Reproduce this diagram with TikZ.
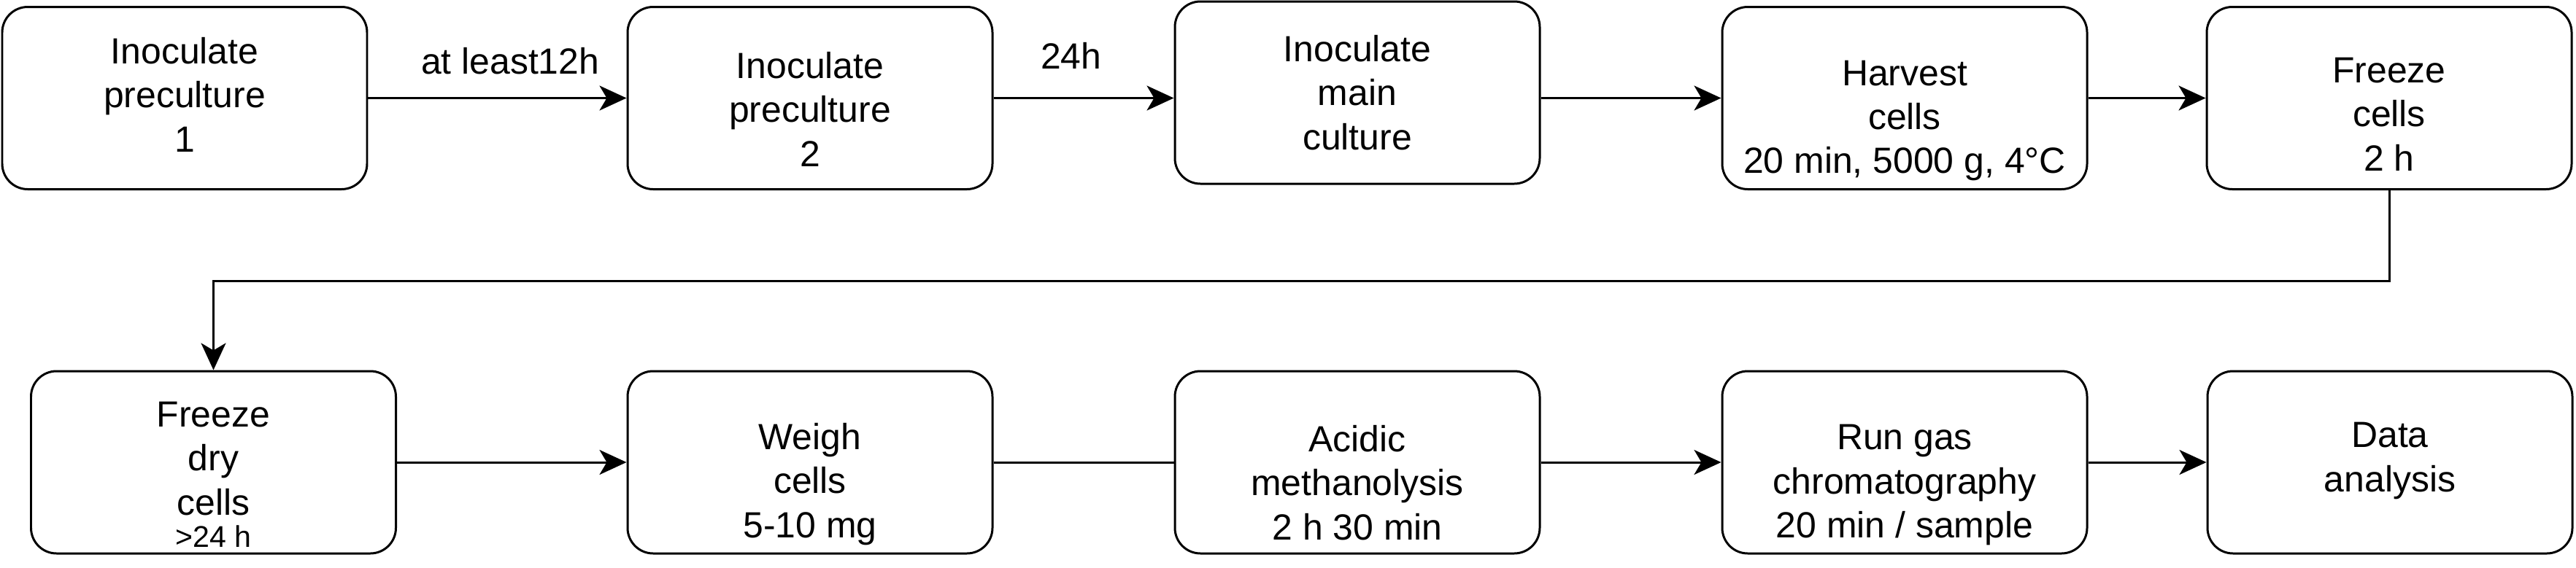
\documentclass[tikz,border=0pt]{standalone}
\usepackage{fontspec}
\setmainfont{Liberation Sans}
\usepackage{tikz}
\usetikzlibrary{arrows.meta,positioning,calc}
\tikzset{
  >={Stealth[length=3.7mm,width=3.4mm,inset=1mm]},
  every picture/.append style={line width=0.85pt},
  every node/.append style={font=\fontsize{14.2}{17.2}\selectfont},
}
\tikzset{
  stepbox/.style={draw, rounded corners=3.5mm, minimum width=50mm, minimum height=25mm, inner sep=0pt},
  steptext/.style={align=center, inner sep=0pt},
  arrow/.style={->},
  link/.style={-},
  timelabel/.style={anchor=base, inner sep=0pt}
}

\begin{document}
\begin{tikzpicture}
\useasboundingbox (0,0) rectangle (35.30,7.78);

% First row: cultivation
\node[stepbox] (pre1) at (2.53,6.435) {};
\node[stepbox] (pre2) at (11.10,6.435) {};
\node[stepbox] (main) at (18.60,6.51) {};
\node[stepbox] (harvest) at (26.10,6.435) {};
\node[stepbox] (freeze) at (32.74,6.435) {};

\node[steptext] (pre1-t) at ([yshift=0.05cm]pre1) {Inoculate\\preculture\\1};
\node[steptext] (pre2-t) at ([yshift=-0.15cm]pre2) {Inoculate\\preculture\\2};
\node[steptext] (main-t) at (main) {Inoculate\\main\\culture};
\node[steptext] (harvest-t) at ([yshift=-0.31cm]harvest) {Harvest\\cells\\20 min, 5000 g, 4°C};
\node[steptext] (freeze-t) at ([yshift=-0.22cm]freeze) {Freeze\\cells\\2 h};

% Second row: sample preparation and analysis
\node[stepbox] (dry) at (2.925,1.44) {};
\node[stepbox] (weigh) at (11.10,1.44) {};
\node[stepbox] (acid) at (18.60,1.44) {};
\node[stepbox] (gc) at (26.10,1.44) {};
\node[stepbox] (data) at (32.75,1.44) {};

\node[steptext] (dry-t) at ([yshift=-0.17cm]dry) {Freeze\\dry\\cells\\[-1.6mm]{\fontsize{11.7}{14}\selectfont >24 h}};
\node[steptext] (weigh-t) at ([yshift=-0.30cm]weigh) {Weigh\\cells\\5-10 mg};
\node[steptext] (acid-t) at ([yshift=-0.28cm]acid) {Acidic\\methanolysis\\2 h 30 min};
\node[steptext] (gc-t) at ([yshift=-0.31cm]gc) {Run gas\\chromatography\\20 min / sample};
\node[steptext] (data-t) at ([yshift=0.02cm]data) {Data\\analysis};

% Connectors
\draw[arrow] (pre1) -- node[timelabel, pos=0.55, yshift=3.3mm] (wait1) {at least12h} (pre2);
\draw[arrow] (pre2) -- node[timelabel, pos=0.43, yshift=4mm] (wait2) {24h} (pre2 -| main.west);
\draw[arrow] (main.east |- harvest) -- (harvest);
\draw[arrow] (harvest) -- (freeze);
\coordinate (bend) at (18,3.93);
\draw[arrow] (freeze.south) -- (freeze.south |- bend) -| (dry.north);
\draw[arrow] (dry) -- (weigh);
\draw[link] (weigh) -- (acid);
\draw[arrow] (acid) -- (gc);
\draw[arrow] (gc) -- (data);
\end{tikzpicture}
\end{document}
